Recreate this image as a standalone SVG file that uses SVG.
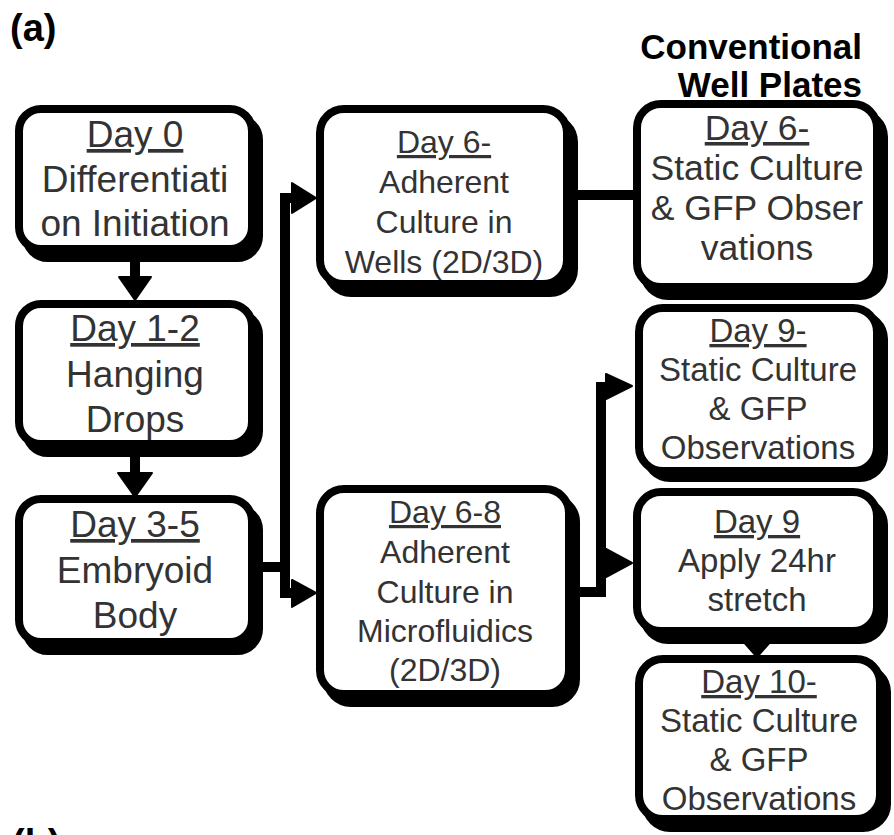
<svg xmlns="http://www.w3.org/2000/svg" width="894" height="835" viewBox="0 0 894 835">
<style>
.sh{fill:#000;stroke:#000;stroke-width:8}
.bx{fill:#fff;stroke:#000;stroke-width:8}
.t{font-family:"Liberation Sans",Arial,sans-serif;fill:#333;text-anchor:middle}
.l{font-size:37px}
.m{font-size:32px}
.r{font-size:33px}
.rf{font-size:35.5px}
.u{text-decoration:underline}
.hd{font-family:"Liberation Sans",Arial,sans-serif;font-weight:bold;fill:#000}
.ln{fill:none;stroke:#000;stroke-width:10;stroke-linejoin:miter}
.ah{fill:#000;stroke:#000;stroke-width:2;stroke-linejoin:round}
</style>
<rect width="894" height="835" fill="#fff"/>
<text class="hd" x="10" y="41" font-size="38">(a)</text>
<text class="hd" x="12" y="856" font-size="38">(b)</text>
<text class="hd" x="862" y="59" font-size="35" text-anchor="end">Conventional</text>
<text class="hd" x="862" y="97" font-size="35" text-anchor="end">Well Plates</text>

<g id="connectors">
<path class="ln" d="M135,258 V282"/>
<polygon class="ah" points="119,277 151,277 135,300"/>
<path class="ln" d="M135,453 V476"/>
<polygon class="ah" points="118,473 152,473 135,497"/>
<path class="ln" d="M258,567 H285"/>
<path class="ln" d="M300,198 H285 V593 H300"/>
<polygon class="ah" points="292,183 292,213 316,198"/>
<polygon class="ah" points="292,580 292,607 316,593"/>
<path class="ln" d="M575,195 H636"/>
<path class="ln" d="M575,592 H601 V387 H612"/>
<path class="ln" d="M601,563 H612"/>
<polygon class="ah" points="606,374 606,399 632,386"/>
<polygon class="ah" points="606,549 606,577 632,563"/>
<polygon class="ah" points="742,640 772,640 757,657"/>
</g>

<g id="day0">
<rect class="sh" x="26" y="118" width="233" height="140" rx="22"/>
<rect class="bx" x="19" y="109" width="233" height="140" rx="22"/>
<text class="t l u" x="135" y="147">Day 0</text>
<text class="t l" x="135" y="192">Differentiati</text>
<text class="t l" x="135" y="236">on Initiation</text>
</g>

<g id="day1-2">
<rect class="sh" x="26" y="313" width="233" height="140" rx="22"/>
<rect class="bx" x="19" y="304" width="233" height="140" rx="22"/>
<text class="t l u" x="135" y="341">Day 1-2</text>
<text class="t l" x="135" y="387">Hanging</text>
<text class="t l" x="135" y="432">Drops</text>
</g>

<g id="day3-5">
<rect class="sh" x="26" y="508" width="233" height="143" rx="22"/>
<rect class="bx" x="19" y="499" width="233" height="143" rx="22"/>
<text class="t l u" x="135" y="537">Day 3-5</text>
<text class="t l" x="135" y="583">Embryoid</text>
<text class="t l" x="135" y="628">Body</text>
</g>

<g id="day6-wells">
<rect class="sh" x="327" y="118" width="247" height="175" rx="24"/>
<rect class="bx" x="320" y="109" width="247" height="175" rx="24"/>
<text class="t m u" x="444" y="153">Day 6-</text>
<text class="t m" x="444" y="193">Adherent</text>
<text class="t m" x="444" y="233">Culture in</text>
<text class="t m" x="444" y="273">Wells (2D/3D)</text>
</g>

<g id="day6-8-micro">
<rect class="sh" x="327" y="498" width="249" height="205" rx="24"/>
<rect class="bx" x="320" y="489" width="249" height="205" rx="24"/>
<text class="t m u" x="445" y="523">Day 6-8</text>
<text class="t m" x="445" y="563">Adherent</text>
<text class="t m" x="445" y="603">Culture in</text>
<text class="t m" x="445" y="642">Microfluidics</text>
<text class="t m" x="445" y="681">(2D/3D)</text>
</g>

<g id="day6-static">
<rect class="sh" x="644" y="113" width="240" height="183" rx="24"/>
<rect class="bx" x="637" y="104" width="240" height="183" rx="24"/>
<text class="t rf u" x="757" y="140">Day 6-</text>
<text class="t rf" x="757" y="180">Static Culture</text>
<text class="t rf" x="757" y="220">&amp; GFP Obser</text>
<text class="t rf" x="757" y="260">vations</text>
</g>

<g id="day9-static">
<rect class="sh" x="646" y="315" width="238" height="163" rx="24"/>
<rect class="bx" x="639" y="308" width="238" height="163" rx="24"/>
<text class="t r u" x="758" y="342">Day 9-</text>
<text class="t r" x="758" y="381">Static Culture</text>
<text class="t r" x="758" y="420">&amp; GFP</text>
<text class="t r" x="758" y="459">Observations</text>
</g>

<g id="day9-stretch">
<rect class="sh" x="644" y="501" width="240" height="139" rx="24"/>
<rect class="bx" x="637" y="492" width="240" height="139" rx="24"/>
<text class="t r u" x="757" y="533">Day 9</text>
<text class="t r" x="757" y="572">Apply 24hr</text>
<text class="t r" x="757" y="611">stretch</text>
</g>

<g id="day10-static">
<rect class="sh" x="646" y="668" width="241" height="160" rx="24"/>
<rect class="bx" x="639" y="659" width="241" height="160" rx="24"/>
<text class="t r u" x="759" y="693">Day 10-</text>
<text class="t r" x="759" y="732">Static Culture</text>
<text class="t r" x="759" y="771">&amp; GFP</text>
<text class="t r" x="759" y="810">Observations</text>
</g>
</svg>
